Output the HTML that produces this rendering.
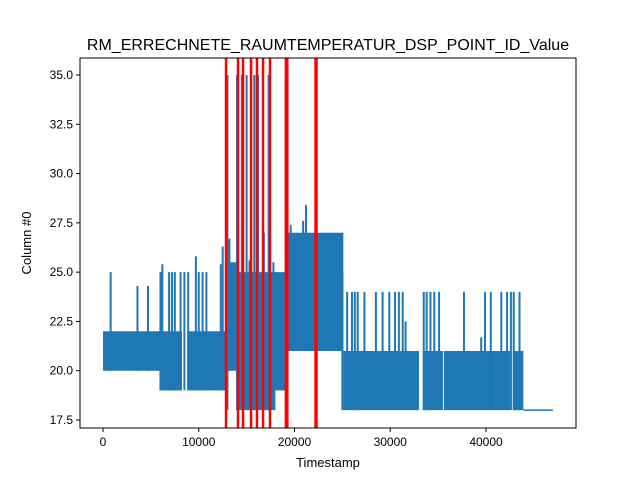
<!DOCTYPE html>
<html><head><meta charset="utf-8"><style>
body{margin:0;background:#fff;font-family:"Liberation Sans",sans-serif}
svg text{font-family:"Liberation Sans","DejaVu Sans",sans-serif;fill:#000}
</style></head><body>
<svg id="c" width="640" height="480">
<rect width="640" height="480" fill="#fff"/>
<text x="328" y="50" font-size="16" text-anchor="middle">RM_ERRECHNETE_RAUMTEMPERATUR_DSP_POINT_ID_Value</text>
<g id="plot"></g>
<g id="ax"></g>
<text x="328" y="467" font-size="13" text-anchor="middle">Timestamp</text>
<text transform="translate(31,243) rotate(-90)" font-size="13" text-anchor="middle">Column #0</text>
</svg>
<script>
const blocks=[[0,5950,20,22],[5950,8250,19,22],[8800,12850,19,22],[12800,14000,20,25.5],[14000,18000,18,24],[13300,18000,21,25],[17800,19200,19,25],[19200,25100,21,27],[25100,33000,18,21],[33400,35500,18,21],[35600,41000,18,21],[41000,42500,18,21],[42800,43900,18,21]];
const spikes=[[800,20,25],[3600,20,24.3],[4700,20,24.3],[6000,19,25],[6200,19,25.4],[6900,19,25],[7200,19,25],[7500,19,25],[8100,19,25],[8500,19,25],[8900,19,25],[9700,19,25.8],[10000,19,25],[10400,19,25],[10800,19,25],[12300,19,25.4],[12500,19,26.3],[13000,18,35],[13200,20,26.7],[14000,18,35],[14500,18,35],[15000,18,35],[15300,18,25.6],[15800,18,35],[16200,18,35],[16800,19,27],[17300,19,35],[17800,19,25.5],[19100,19,35],[19600,21,27.4],[20900,21,27.6],[21200,21,28.4],[22300,21,35],[25000,18,25],[25500,18,24],[26000,18,24],[26300,18,24],[26600,18,24],[27300,18,24],[28500,18,24],[29200,18,24],[29900,18,24],[30500,18,24],[30900,18,24],[31300,18,24],[31600,18,22.5],[33500,18,24],[33800,18,24],[34200,18,24],[34600,18,24],[35100,18,24],[37700,18,24],[39500,18,21.7],[39900,18,24],[40500,18,24],[41600,18,24],[42200,18,24],[42600,18,24],[42900,18,24],[43500,18,24]];
const flat=[[43900,18],[47000,18]];
const redLines=[12850,14100,14620,15460,16080,16710,17440,19100,19250,22200,22300];
const xTicks=[0,10000,20000,30000,40000];
const yTicks=[17.5,20.0,22.5,25.0,27.5,30.0,32.5,35.0];
const L=80,R=576,T=58,B=428;
const X=t=>103+t*383/40000, Y=v=>75+(35-v)*345/17.5;
const NS="http://www.w3.org/2000/svg",plot=document.getElementById('plot'),ax=document.getElementById('ax');
function mk(p,tag,a){const e=document.createElementNS(NS,tag);for(const k in a)e.setAttribute(k,a[k]);p.appendChild(e);return e;}
const C='#1f77b4';
blocks.forEach(b=>{const e=mk(plot,'rect',{x:X(b[0]),y:Y(b[3]),width:X(b[1])-X(b[0]),height:Y(b[2])-Y(b[3]),fill:C});

});
spikes.forEach(s=>{const e=mk(plot,'line',{x1:X(s[0]),x2:X(s[0]),y1:Y(s[1]),y2:Y(s[2]),stroke:C,'stroke-width':2});

});
{const e=mk(plot,'line',{x1:X(flat[0][0]),x2:X(flat[1][0]),y1:Y(flat[0][1]),y2:Y(flat[1][1]),stroke:C,'stroke-width':1.5});

}
redLines.forEach(t=>{const e=mk(plot,'line',{x1:X(t),x2:X(t),y1:T,y2:B,stroke:'#f00','stroke-width':2.5});

});
mk(ax,'rect',{x:L,y:T,width:R-L,height:B-T,fill:'none',stroke:'#000','stroke-width':1});
xTicks.forEach(t=>{mk(ax,'line',{x1:X(t),x2:X(t),y1:B,y2:B+4,stroke:'#000'});
const e=mk(ax,'text',{x:X(t),y:B+18,'font-size':12,'text-anchor':'middle'});e.textContent=t;

});
yTicks.forEach(v=>{mk(ax,'line',{x1:L-4,x2:L,y1:Y(v),y2:Y(v),stroke:'#000'});
const e=mk(ax,'text',{x:L-7,y:Y(v)+4,'font-size':12,'text-anchor':'end'});e.textContent=v.toFixed(1);

});
</script>
</body></html>
